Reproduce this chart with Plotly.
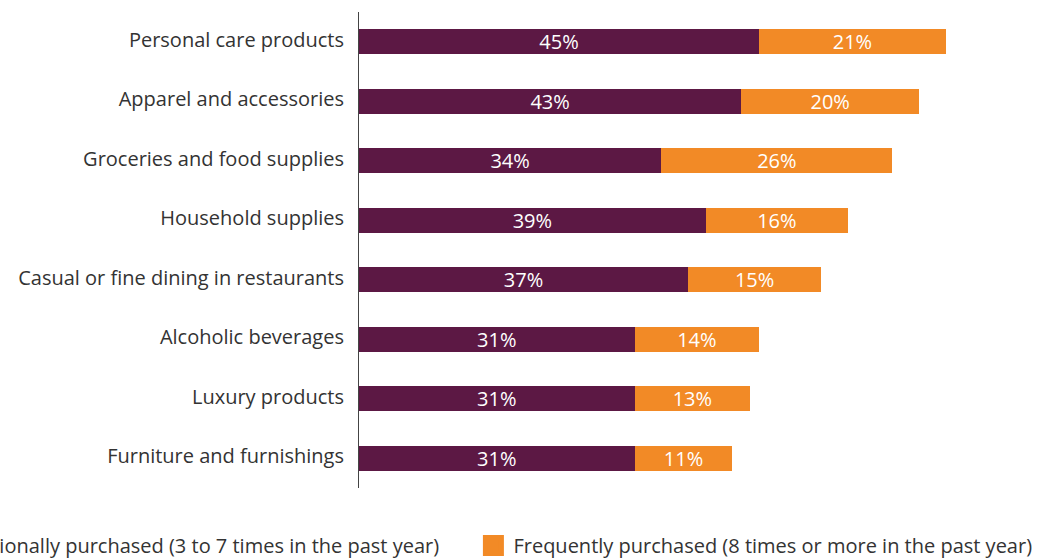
import plotly.graph_objects as go

categories = [
    "Personal care products",
    "Apparel and accessories",
    "Groceries and food supplies",
    "Household supplies",
    "Casual or fine dining in restaurants",
    "Alcoholic beverages",
    "Luxury products",
    "Furniture and furnishings",
]
occasional = [45, 43, 34, 39, 37, 31, 31, 31]
frequent = [21, 20, 26, 16, 15, 14, 13, 11]
series_names = [
    "Occasionally purchased (3 to 7 times in the past year)",
    "Frequently purchased (8 times or more in the past year)",
]
colors = ["#5c1844", "#f28a26"]
legend_ids = ["legend", "legend2"]

FONT = "Open Sans, sans-serif"
TEXT_COLOR = "#333333"

fig = go.Figure()
for vals, name, col, lg in zip([occasional, frequent], series_names, colors, legend_ids):
    fig.add_trace(go.Bar(
        y=categories, x=vals, orientation="h", name=name,
        marker=dict(color=col, line=dict(width=0)),
        text=[f"{v}%" for v in vals], textposition="inside",
        insidetextanchor="middle", constraintext="none",
        textfont=dict(color="#ffffff", size=20, family=FONT),
        showlegend=False, hoverinfo="skip",
    ))
    # legend entry with a larger square swatch
    fig.add_trace(go.Scatter(
        x=[None], y=[None], mode="markers", name=name,
        marker=dict(symbol="square", size=16, color=col,
                    line=dict(color=col, width=5)),
        showlegend=True, hoverinfo="skip", legend=lg,
    ))

legend_common = dict(
    orientation="h", yanchor="middle", y=-0.1208,
    font=dict(size=20, color=TEXT_COLOR, family=FONT),
    itemclick=False, itemdoubleclick=False,
    bgcolor="rgba(0,0,0,0)", borderwidth=0,
)

fig.update_layout(
    barmode="stack",
    bargap=0.58,
    width=1059, height=558,
    margin=dict(l=359, r=19, t=12, b=70, autoexpand=False),
    paper_bgcolor="white", plot_bgcolor="white",
    font=dict(family=FONT, size=20, color=TEXT_COLOR),
    legend=dict(xanchor="right", x=0.1263, **legend_common),
    legend2=dict(xanchor="left", x=0.168, **legend_common),
    xaxis=dict(range=[0, 76.6], showticklabels=False, showgrid=False,
               zeroline=False, showline=False, fixedrange=True),
    yaxis=dict(autorange="reversed", showgrid=False, zeroline=False,
               showline=True, linecolor="#444444", linewidth=1,
               ticks="", ticklabelstandoff=10, ticklabelshift=2,
               fixedrange=True,
               tickfont=dict(size=20, color=TEXT_COLOR, family=FONT)),
)

fig.write_html("out.html", config={"displayModeBar": False},
               post_script="document.body.style.margin='0';")
